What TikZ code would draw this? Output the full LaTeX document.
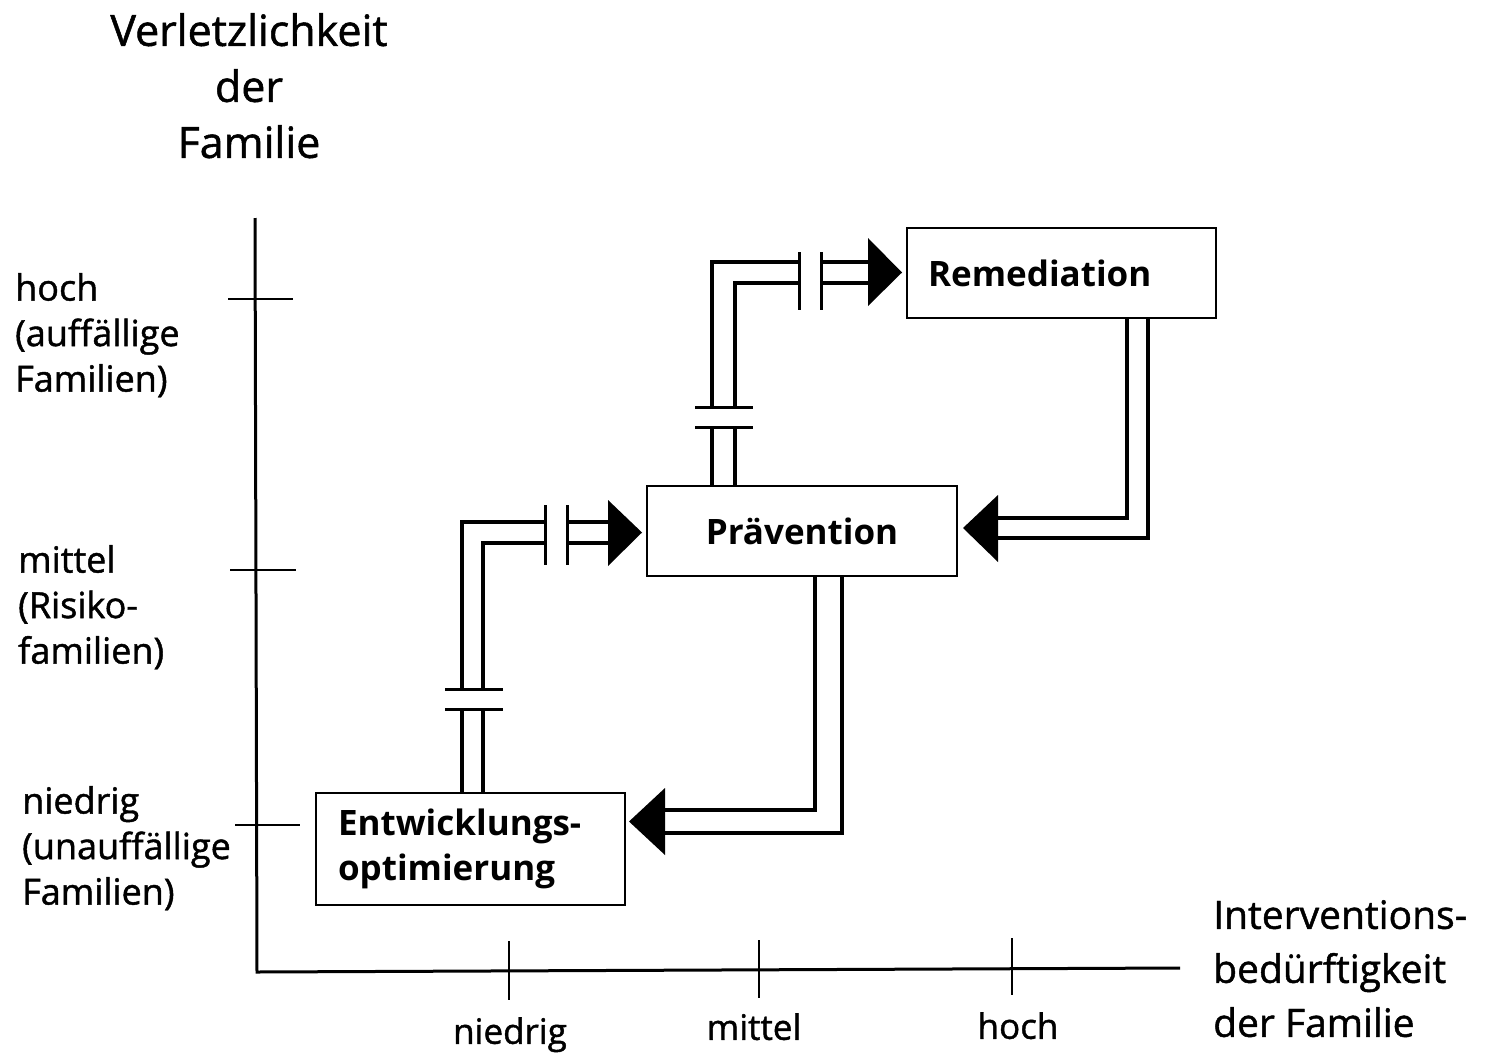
\documentclass[tikz,border=0pt]{standalone}
\usepackage{fontspec}
\setmainfont{Open Sans}
\newfontfamily\medfont[FakeBold=1.2]{Open Sans}
\begin{document}
\begin{tikzpicture}[x=1pt,y=-1pt,
  box/.style={draw, line width=2pt, inner sep=0pt, font=\fontsize{35}{45}\selectfont\bfseries},
  pipe/.style={line width=3.2pt},
  brk/.style={line width=3pt},
  head/.style={fill=black, draw=none},
  axis/.style={line width=3pt},
  tickmark/.style={line width=2pt},
  lbl/.style={font=\medfont\fontsize{36}{45.5}\selectfont, align=left, inner sep=0pt, anchor=north west},
  ttl/.style={font=\medfont\fontsize{43}{56}\selectfont, align=center, inner sep=0pt, anchor=north},
  xlbl/.style={font=\medfont\fontsize{35}{42}\selectfont, inner sep=0pt, anchor=north},
  rlbl/.style={font=\medfont\fontsize{39}{54}\selectfont, align=left, inner sep=0pt, anchor=north west}
]
\useasboundingbox[fill=white] (0,0) rectangle (1496,1052);

% axes
\coordinate (ytop) at (255,218);
\coordinate (origin) at (257,972);
\coordinate (xend) at (1180,968);
\draw[axis] (ytop) -- (origin) -- (xend);

% y ticks
\coordinate (yt1a) at (228,299); \coordinate (yt1b) at (293,299);
\coordinate (yt2a) at (230,570); \coordinate (yt2b) at (296,570);
\coordinate (yt3a) at (235,825); \coordinate (yt3b) at (300,825);
\draw[tickmark] (yt1a) -- (yt1b);
\draw[tickmark] (yt2a) -- (yt2b);
\draw[tickmark] (yt3a) -- (yt3b);
% x ticks
\coordinate (xt1a) at (509,941); \coordinate (xt1b) at (509,1000);
\coordinate (xt2a) at (759,940); \coordinate (xt2b) at (759,998);
\coordinate (xt3a) at (1012,938); \coordinate (xt3b) at (1012,995);
\draw[tickmark] (xt1a) -- (xt1b);
\draw[tickmark] (xt2a) -- (xt2b);
\draw[tickmark] (xt3a) -- (xt3b);

% labels
\node[ttl] (ttl) at (249,13) {Verletzlichkeit\\der\\Familie};
\node[lbl] (lh) at (15,273) {hoch\\(auffällige\\Familien)};
\node[lbl] (lm) at (18,545) {mittel\\(Risiko-\\familien)};
\node[lbl] (ln) at (22,786) {niedrig\\(unauffällige\\Familien)};
\node[xlbl] (bn) at (510,1017) {niedrig};
\node[xlbl] (bm) at (754,1013) {mittel};
\node[xlbl] (bh) at (1018,1012) {hoch};
\node[rlbl] (rl) at (1213,900) {Interventions-\\bedürftigkeit\\der Familie};

% boxes
\node[box, minimum height=90pt, text width=267pt, inner xsep=21pt, align=left] (rem) at (1061.5,273) {Remediation};
\node[box, minimum width=310pt, minimum height=90pt, align=center] (prae) at (802,531) {Prävention};
\node[box, minimum height=112pt, text width=265pt, inner xsep=22pt, align=left] (ent) at (470.5,849) {Entwicklungs-\\optimierung};

% pipe 1: ent -> prae
\coordinate (a1o) at (462,522); \coordinate (a1i) at (483,543);
\draw[pipe] (ent.north -| a1o) -- (462,709);
\draw[pipe] (ent.north -| a1i) -- (483,709);
\draw[pipe] (462,689) -- (a1o) -- (545,522);
\draw[pipe] (483,689) -- (a1i) -- (545,543);
\draw[pipe] (567,522) -- (612,522);
\draw[pipe] (567,543) -- (612,543);
\draw[brk] (445,689) -- (503,689);
\draw[brk] (445,709) -- (503,709);
\draw[brk] (545,505) -- (545,565);
\draw[brk] (567,505) -- (567,565);
\fill[head] (608,500) -- ([xshift=-4pt]prae.west |- 0,532.5) -- (608,566) -- cycle;

% pipe 2: prae -> rem
\coordinate (a2o) at (712,262); \coordinate (a2i) at (735,283);
\draw[pipe] (prae.north -| a2o) -- (712,427);
\draw[pipe] (prae.north -| a2i) -- (735,427);
\draw[pipe] (712,407) -- (a2o) -- (799,262);
\draw[pipe] (735,407) -- (a2i) -- (799,283);
\draw[pipe] (821,262) -- (872,262);
\draw[pipe] (821,283) -- (872,283);
\draw[brk] (695,407) -- (753,407);
\draw[brk] (695,427) -- (753,427);
\draw[brk] (799,252) -- (799,310);
\draw[brk] (821,252) -- (821,310);
\fill[head] (868,238) -- ([xshift=-4pt]rem.west |- 0,272.5) -- (868,306) -- cycle;

% pipe 3: rem -> prae
\coordinate (a3i) at (1127,518); \coordinate (a3o) at (1148,538);
\draw[pipe] (rem.south -| a3i) -- (a3i) -- (994,518);
\draw[pipe] (rem.south -| a3o) -- (a3o) -- (994,538);
\fill[head] (998,495) -- ([xshift=5pt]prae.east |- 0,528) -- (998,562) -- cycle;

% pipe 4: prae -> ent
\coordinate (a4i) at (815,810); \coordinate (a4o) at (842,833);
\draw[pipe] (prae.south -| a4i) -- (a4i) -- (661,810);
\draw[pipe] (prae.south -| a4o) -- (a4o) -- (661,833);
\fill[head] (665,788) -- ([xshift=3pt]ent.east |- 0,821.5) -- (665,855) -- cycle;
\end{tikzpicture}
\end{document}
